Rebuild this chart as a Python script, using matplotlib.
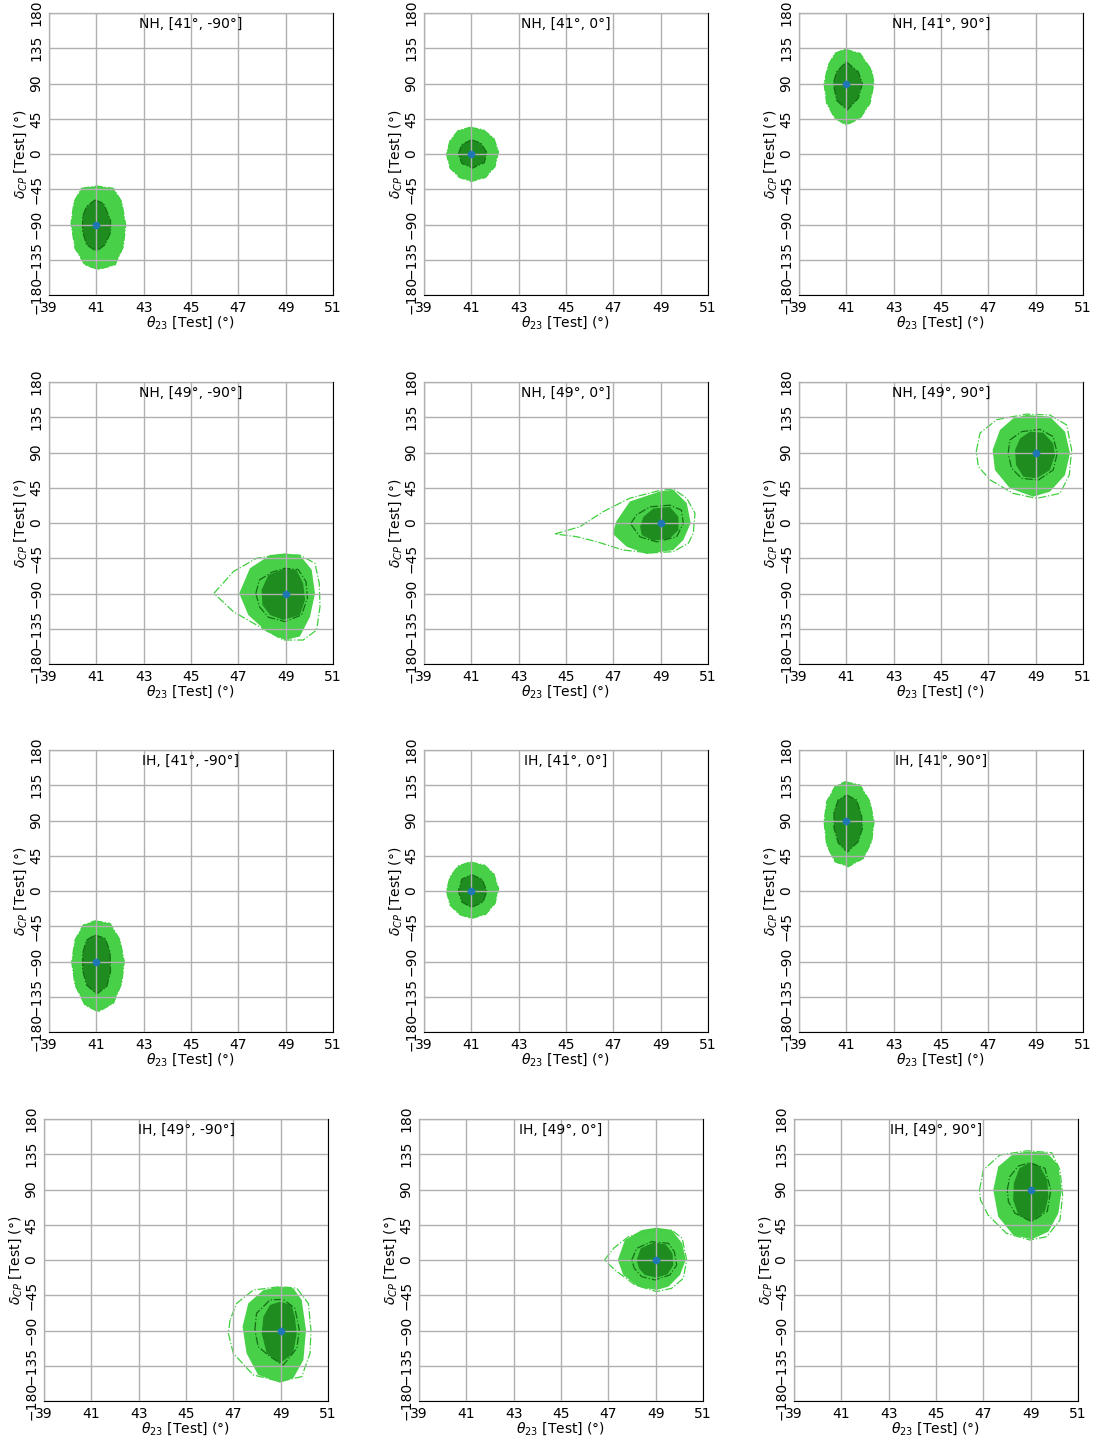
import matplotlib.pyplot as plt

# allowed regions in the (theta23, deltaCP) test plane, one block per true point
# light fill / dark fill = reference setup, dash-dot = alternative setup

# NH, true [41, -90]
nh_41_m90_out = [(40.38, -43.8), (41.01, -40.9), (41.72, -43.8), (42.07, -60.9), (42.24, -90.6),
                 (42.14, -118.3), (41.79, -141.7), (41.08, -147.3), (40.52, -141.7), (40.10, -120.4),
                 (39.93, -88.6), (40.06, -60.9)]
nh_41_m90_in = [(40.94, -58.7), (41.30, -63.0), (41.60, -84.4), (41.60, -100.0), (41.37, -115.7),
                (41.01, -124.2), (40.59, -116.0), (40.42, -99.0), (40.42, -79.7), (40.59, -67.0)]

# NH, true [41, 0]
nh_41_0_out = [(40.95, 34.0), (41.50, 31.0), (41.95, 20.0), (42.15, 3.0), (42.00, -16.0),
               (41.60, -30.0), (41.00, -35.0), (40.50, -30.0), (40.10, -18.0), (39.95, 0.0),
               (40.10, 17.0), (40.45, 30.0)]
nh_41_0_in = [(41.00, 18.0), (41.40, 14.0), (41.65, 2.0), (41.55, -11.0), (41.05, -18.0),
              (40.60, -12.0), (40.45, 0.0), (40.60, 12.0)]

# NH, true [41, 90]
nh_41_90_out = [(40.94, 133.7), (41.58, 128.5), (42.07, 107.0), (42.17, 90.2), (42.00, 64.7),
                (41.58, 45.6), (41.00, 37.0), (40.52, 45.6), (40.17, 64.7), (40.06, 90.2),
                (40.24, 113.6), (40.52, 128.5)]
nh_41_90_in = [(41.00, 117.8), (41.50, 105.0), (41.68, 90.0), (41.50, 71.0), (41.04, 56.2),
               (40.59, 68.5), (40.45, 90.0), (40.59, 105.0)]

# NH, true [49, -90]
nh_49_m90_out = [(47.04, -89.8), (47.49, -57.8), (48.34, -41.0), (48.97, -38.8), (49.60, -41.0),
                 (50.10, -59.7), (50.24, -89.8), (50.03, -119.6), (49.60, -144.9), (48.97, -149.4),
                 (48.20, -138.8), (47.42, -117.4)]
nh_49_m90_in = [(47.98, -85.5), (48.27, -66.4), (48.97, -57.8), (49.46, -60.0), (49.74, -77.0),
                (49.82, -98.3), (49.60, -117.4), (48.90, -123.8), (48.34, -117.4), (48.02, -104.7)]
nh_49_m90_alt_out = [(45.97, -89.8), (46.79, -62.0), (47.77, -45.0), (48.62, -41.0), (49.60, -41.0),
                     (50.24, -51.4), (50.42, -77.0), (50.45, -106.9), (50.31, -136.6), (49.74, -149.4),
                     (48.90, -149.4), (47.77, -130.2), (46.79, -113.2)]
nh_49_m90_alt_in = [(47.74, -89.8), (47.89, -72.8), (48.41, -62.9), (48.97, -57.8), (49.53, -59.4),
                    (49.86, -74.9), (49.92, -96.2), (49.67, -117.4), (48.97, -125.9), (48.27, -120.3),
                    (47.89, -106.9)]

# NH, true [49, 0]
nh_49_0_out = [(46.97, -13.7), (47.13, 2.2), (47.70, 27.5), (48.97, 40.3), (49.53, 42.5),
               (50.10, 25.5), (50.27, 0.0), (49.96, -21.7), (49.53, -34.5), (48.40, -39.6),
               (47.56, -30.2)]
nh_49_0_in = [(48.13, -4.7), (48.27, 7.9), (48.69, 18.5), (49.39, 20.6), (49.75, 7.9),
              (49.75, -9.0), (49.39, -19.6), (48.69, -22.6), (48.20, -15.3)]
nh_49_0_alt_out = [(44.53, -14.0), (45.59, -4.7), (46.57, 14.5), (47.70, 31.7), (48.97, 41.6),
                   (49.53, 43.4), (50.10, 31.7), (50.45, 12.5), (50.38, -13.0), (50.17, -25.8),
                   (49.53, -36.6), (48.55, -38.2), (47.42, -34.5), (46.29, -23.8), (45.44, -17.4)]
nh_49_0_alt_in = [(47.73, -1.1), (47.98, 10.4), (48.55, 20.6), (49.39, 22.8), (49.88, 16.4),
                  (49.96, -0.7), (49.67, -17.7), (48.83, -24.1), (48.13, -17.7)]

# NH, true [49, 90]
nh_49_90_out = [(48.62, 137.9), (49.60, 135.8), (50.24, 116.6), (50.45, 89.0), (50.24, 61.3),
                (49.60, 40.0), (48.90, 33.6), (47.91, 44.4), (47.28, 67.6), (47.18, 93.2),
                (47.49, 118.7), (48.05, 133.6)]
nh_49_90_in = [(48.76, 116.6), (49.32, 115.3), (49.74, 101.7), (49.82, 86.8), (49.60, 67.6),
               (49.04, 57.0), (48.48, 59.1), (48.17, 74.0), (48.13, 93.2), (48.34, 108.0)]
nh_49_90_alt_out = [(46.49, 91.4), (46.65, 114.8), (47.35, 131.9), (48.62, 139.0), (49.60, 137.9),
                    (50.31, 125.1), (50.52, 93.2), (50.42, 61.3), (50.03, 37.8), (49.04, 31.4),
                    (48.05, 37.8), (47.08, 54.9), (46.58, 71.9)]
nh_49_90_alt_in = [(47.84, 89.0), (47.91, 106.0), (48.41, 116.6), (49.18, 119.6), (49.74, 110.3),
                   (49.91, 89.0), (49.74, 67.6), (49.11, 54.9), (48.41, 57.0), (47.98, 69.8)]

# IH, true [41, -90]
ih_41_m90_out = [(40.94, -38.1), (41.58, -41.3), (42.00, -62.6), (42.18, -90.3), (42.07, -117.9),
                 (41.72, -143.4), (41.08, -154.1), (40.52, -145.6), (40.10, -120.1), (39.96, -90.3),
                 (40.10, -62.6), (40.45, -43.4)]
ih_41_m90_in = [(40.94, -56.2), (41.37, -60.4), (41.58, -77.5), (41.60, -103.0), (41.44, -122.2),
                (41.01, -131.5), (40.59, -120.0), (40.42, -100.9), (40.42, -79.6), (40.59, -62.6)]

# IH, true [41, 0]
ih_41_0_out = [(40.95, 37.0), (41.55, 33.0), (41.95, 22.0), (42.15, 3.0), (42.00, -16.0),
               (41.60, -30.0), (41.00, -35.0), (40.50, -30.0), (40.10, -18.0), (39.95, 0.0),
               (40.10, 18.0), (40.45, 32.0)]
ih_41_0_in = [(41.00, 21.0), (41.45, 15.0), (41.65, 0.0), (41.50, -14.0), (41.00, -21.0),
              (40.60, -14.0), (40.45, 0.0), (40.60, 15.0)]

# IH, true [41, 90]
ih_41_90_out = [(40.94, 139.5), (41.58, 135.3), (42.00, 114.0), (42.17, 88.5), (42.07, 63.0),
                (41.72, 41.7), (41.08, 31.0), (40.52, 37.4), (40.17, 58.7), (40.06, 88.5),
                (40.17, 114.0), (40.52, 133.2)]
ih_41_90_in = [(41.01, 122.6), (41.43, 116.2), (41.64, 97.0), (41.68, 80.0), (41.50, 63.0),
               (41.04, 49.7), (40.66, 61.3), (40.48, 80.0), (40.48, 101.2), (40.66, 116.2)]

# IH, true [49, -90]
ih_49_m90_out = [(48.97, -34.0), (49.53, -36.1), (49.89, -51.0), (50.07, -89.4), (49.96, -127.7),
                 (49.53, -151.0), (48.97, -156.6), (48.05, -146.8), (47.56, -119.2), (47.39, -85.2),
                 (47.63, -55.4), (48.27, -38.4)]
ih_49_m90_in = [(48.97, -53.2), (49.46, -57.4), (49.60, -72.3), (49.68, -93.6), (49.53, -119.2),
                (48.97, -132.0), (48.41, -119.2), (48.20, -93.6), (48.27, -72.3), (48.55, -57.4)]
ih_49_m90_alt_out = [(46.86, -76.6), (46.79, -93.6), (47.00, -119.2), (47.84, -146.8), (48.97, -155.0),
                     (49.89, -148.9), (50.24, -119.2), (50.28, -89.4), (50.17, -55.4), (49.68, -36.1),
                     (48.97, -34.0), (47.84, -38.4), (47.14, -55.4)]
ih_49_m90_alt_in = [(47.91, -89.4), (47.98, -68.1), (48.55, -51.0), (49.11, -50.2), (49.60, -61.7),
                    (49.79, -89.4), (49.68, -112.8), (49.11, -134.1), (48.55, -123.4), (48.05, -110.6)]

# IH, true [49, 0]
ih_49_0_out = [(47.40, 0.0), (47.70, 25.5), (48.41, 38.3), (49.04, 41.3), (49.67, 38.3),
               (50.12, 21.3), (50.27, 0.0), (50.03, -19.1), (49.54, -34.0), (49.04, -38.3),
               (48.26, -34.0), (47.63, -19.1)]
ih_49_0_in = [(48.20, 0.0), (48.37, 14.9), (48.93, 22.5), (49.43, 19.9), (49.71, 8.5),
              (49.75, -6.4), (49.50, -18.3), (49.04, -22.6), (48.54, -19.1), (48.29, -10.6)]
ih_49_0_alt_out = [(46.84, 0.0), (47.22, 14.9), (47.85, 29.8), (48.69, 37.1), (49.67, 38.3),
                   (50.12, 27.7), (50.31, 0.0), (50.17, -23.4), (49.67, -36.2), (49.04, -40.4),
                   (48.13, -31.9), (47.28, -12.8)]
ih_49_0_alt_in = [(47.99, 0.0), (48.20, 14.9), (48.83, 23.4), (49.54, 21.3), (49.79, 10.6),
                  (49.89, -6.4), (49.60, -19.1), (48.97, -25.5), (48.41, -21.3), (48.10, -10.6)]

# IH, true [49, 90]
ih_49_90_out = [(48.83, 138.3), (49.68, 137.0), (50.17, 121.3), (50.31, 89.4), (50.17, 59.6),
                (49.75, 36.2), (49.04, 26.4), (48.26, 31.9), (47.63, 55.3), (47.42, 89.4),
                (47.63, 119.2), (48.26, 135.3)]
ih_49_90_in = [(48.97, 124.3), (49.39, 120.0), (49.70, 102.2), (49.75, 80.9), (49.60, 61.8),
               (49.04, 49.0), (48.48, 57.4), (48.26, 76.6), (48.29, 97.9), (48.52, 117.0)]
ih_49_90_alt_out = [(46.84, 89.4), (47.00, 114.9), (47.70, 134.0), (48.83, 139.4), (49.89, 137.0),
                    (50.24, 114.9), (50.35, 83.0), (50.24, 51.0), (49.68, 29.8), (48.97, 25.5),
                    (47.98, 34.0), (47.20, 57.4), (46.88, 76.6)]
ih_49_90_alt_in = [(48.01, 89.4), (48.12, 106.4), (48.48, 120.0), (48.97, 124.3), (49.60, 117.0),
                   (49.85, 89.4), (49.70, 61.8), (49.04, 49.0), (48.34, 59.6), (48.06, 74.5)]

hierarchy = ["NH"] * 6 + ["IH"] * 6
true_theta = [41, 41, 41, 49, 49, 49, 41, 41, 41, 49, 49, 49]
true_delta = [-90, 0, 90, -90, 0, 90, -90, 0, 90, -90, 0, 90]

fills_out = [nh_41_m90_out, nh_41_0_out, nh_41_90_out, nh_49_m90_out, nh_49_0_out, nh_49_90_out,
             ih_41_m90_out, ih_41_0_out, ih_41_90_out, ih_49_m90_out, ih_49_0_out, ih_49_90_out]
fills_in = [nh_41_m90_in, nh_41_0_in, nh_41_90_in, nh_49_m90_in, nh_49_0_in, nh_49_90_in,
            ih_41_m90_in, ih_41_0_in, ih_41_90_in, ih_49_m90_in, ih_49_0_in, ih_49_90_in]
# for theta23 = 41 the alternative setup lands on the same contours
lines_out = [nh_41_m90_out, nh_41_0_out, nh_41_90_out, nh_49_m90_alt_out, nh_49_0_alt_out, nh_49_90_alt_out,
             ih_41_m90_out, ih_41_0_out, ih_41_90_out, ih_49_m90_alt_out, ih_49_0_alt_out, ih_49_90_alt_out]
lines_in = [nh_41_m90_in, nh_41_0_in, nh_41_90_in, nh_49_m90_alt_in, nh_49_0_alt_in, nh_49_90_alt_in,
            ih_41_m90_in, ih_41_0_in, ih_41_90_in, ih_49_m90_alt_in, ih_49_0_alt_in, ih_49_90_alt_in]

theta_ticks = [39, 41, 43, 45, 47, 49, 51]
delta_ticks = [-180, -135, -90, -45, 0, 45, 90, 135, 180]

light = "#48d048"
dark = "#1f8c1f"


def closed(pts):
    xs = [p[0] for p in pts] + [pts[0][0]]
    ys = [p[1] for p in pts] + [pts[0][1]]
    return xs, ys


W, H = 1097, 1443
fig = plt.figure(figsize=(W / 100, H / 100), dpi=100)

col_left = [49, 424, 799]
row_top = [13, 382, 750, 1119]
aw, ah = 284, 282

for i in range(12):
    r, c = divmod(i, 3)
    left = col_left[c] - (5 if r == 3 else 0)
    ax = fig.add_axes([left / W, (H - row_top[r] - ah) / H, aw / W, ah / H])

    ax.fill(*closed(fills_out[i]), color=light, lw=0, zorder=1)
    ax.fill(*closed(fills_in[i]), color=dark, lw=0, zorder=1.1)
    ax.plot(*closed(lines_out[i]), ls="-.", lw=0.9, color="#3fcf3f", zorder=2)
    ax.plot(*closed(lines_in[i]), ls="-.", lw=0.9, color="#156e15", zorder=2)
    ax.plot(true_theta[i], true_delta[i], "o", color="tab:blue", ms=4.5, zorder=3)

    ax.set_xlim(39, 51)
    ax.set_ylim(-180, 180)
    ax.set_xticks(theta_ticks)
    ax.set_yticks(delta_ticks)
    ax.tick_params(length=0, pad=4, labelsize=10)
    ax.tick_params(axis="y", labelrotation=90)
    for lab in ax.get_yticklabels():
        lab.set_va("center")
    ax.set_axisbelow(False)
    ax.grid(True, color="#b0b0b0", lw=1.0, zorder=2.5)

    ax.set_xlabel(r"$\theta_{23}$ [Test] (°)", labelpad=0)
    ax.set_ylabel(r"$\delta_{CP}$ [Test] (°)", labelpad=0)
    ax.text(0.5, 0.96, f"{hierarchy[i]}, [{true_theta[i]}°, {true_delta[i]}°]",
            transform=ax.transAxes, ha="center", va="center")

fig.savefig("out.png", dpi=100)
